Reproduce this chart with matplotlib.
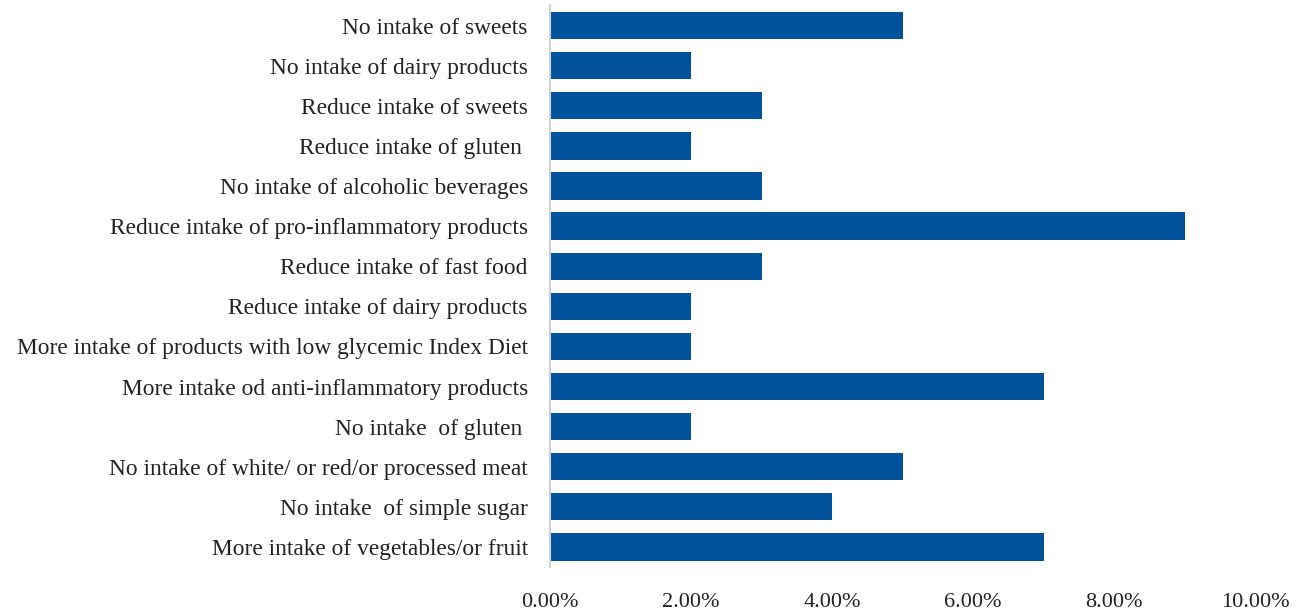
import matplotlib
matplotlib.use("Agg")
import matplotlib.pyplot as plt
from matplotlib.ticker import PercentFormatter

# dietary changes, listed bottom to top
labels = [
    "More intake of vegetables/or fruit",
    "No intake  of simple sugar",
    "No intake of white/ or red/or processed meat",
    "No intake  of gluten ",
    "More intake od anti-inflammatory products",
    "More intake of products with low glycemic Index Diet",
    "Reduce intake of dairy products",
    "Reduce intake of fast food",
    "Reduce intake of pro-inflammatory products",
    "No intake of alcoholic beverages",
    "Reduce intake of gluten ",
    "Reduce intake of sweets",
    "No intake of dairy products",
    "No intake of sweets",
]
shares = [7, 4, 5, 2, 7, 2, 2, 3, 9, 3, 2, 3, 2, 5]
xticks = [0, 2, 4, 6, 8, 10]

plt.rcParams['font.family'] = ['Liberation Serif', 'DejaVu Serif']

fig = plt.figure(figsize=(13.05, 6.11), dpi=100)
ax = fig.add_axes([0.4215, 0.072, 0.5402, 0.919])

ax.barh(range(len(labels)), shares, height=0.68, color='#00539B')

ax.set_xlim(0, 10)
ax.set_ylim(-0.5, len(labels) - 0.5)
ax.set_yticks(range(len(labels)))
ax.set_yticklabels(labels, fontsize=16.8, color='#222222')
ax.set_xticks(xticks)
ax.xaxis.set_major_formatter(PercentFormatter(decimals=2))
ax.tick_params(axis='x', length=0, pad=19, labelsize=16, labelcolor='#222222')
ax.tick_params(axis='y', length=0, pad=16)

for side in ['top', 'right', 'bottom']:
    ax.spines[side].set_visible(False)
ax.spines['left'].set_color('#d0d0d0')
ax.spines['left'].set_linewidth(1.5)

fig.savefig("out.png", dpi=100)
